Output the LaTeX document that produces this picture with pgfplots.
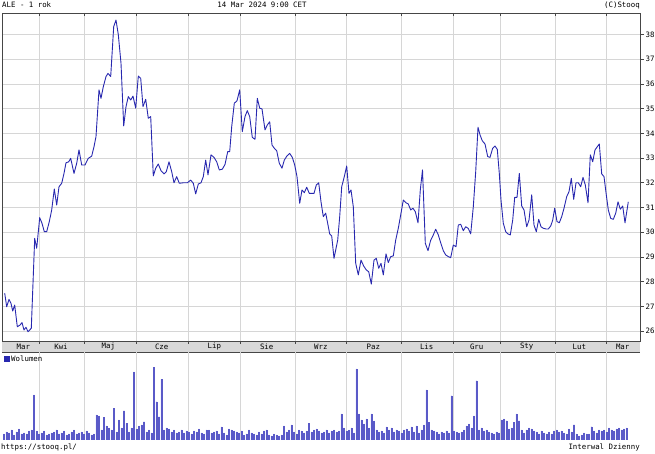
\documentclass[border=0pt]{standalone}
\usepackage{fontspec}
\setmainfont{DejaVu Sans Mono}
\usepackage{pgfplots}
\usepackage{pgfplotstable}
\pgfplotsset{compat=1.18}
\definecolor{pline}{RGB}{40,40,175}
\definecolor{gridc}{RGB}{214,214,214}
\definecolor{volfill}{RGB}{178,178,245}
\definecolor{voledge}{RGB}{90,90,200}
\definecolor{band}{RGB}{216,216,216}
\definecolor{frame}{RGB}{70,70,70}

% ALE daily close, x = position in the chart (px), y = price
\pgfplotstableread{
x y
4.7 27.53
6.7 26.98
9 27.28
11 27.12
12.7 26.81
14.7 27.05
17.3 26.17
20 26.24
22 26.34
24 26.04
26 26.15
28 25.97
31.3 26.11
34.7 29.75
36.7 29.35
39.7 30.59
42 30.36
44.3 30.02
46.7 30.02
49.3 30.43
51.7 30.90
54.3 31.75
56.7 31.10
59 31.84
61.7 31.98
64 32.38
66 32.81
68.7 32.85
70.7 32.99
74 32.38
76.7 32.79
79 33.33
81.7 32.72
85 32.72
88.3 32.99
91.7 33.08
94 33.46
96 33.87
99 35.76
101 35.42
103.3 35.89
106 36.30
108 36.43
110.7 36.30
112.3 37.38
113.7 38.32
116 38.59
118.3 38.00
121 36.84
123.7 34.30
126 35.08
128.3 35.49
130.7 35.35
133 35.51
135.7 35.02
138.3 36.32
140.7 36.23
143 35.08
145.7 35.38
148.3 34.61
150.7 34.68
153.3 32.28
155.7 32.59
158.3 32.76
161 32.49
164 32.36
166.3 32.45
169 32.85
171.7 32.45
174 32.00
176.7 32.25
179.3 31.98
183.3 32.00
187.3 32.00
190.7 32.11
193.3 31.98
195.7 31.55
198.3 31.95
201 32.00
203.3 32.25
205.7 32.92
208 32.32
211 33.13
214 33.03
216.7 32.85
219.3 32.52
222.3 32.55
225 32.74
227.7 33.26
229.7 33.26
231.7 34.27
234.3 35.22
237 35.32
239.7 35.76
242.3 34.07
245 34.68
247.3 34.92
249.7 34.68
252.3 33.84
255 33.76
257.3 35.42
259.7 35.02
262 34.99
265 34.14
267.3 34.34
269.7 34.47
272 33.53
274.3 33.40
276.7 33.30
279.3 32.79
282 32.59
284.3 32.92
287 33.09
289.7 33.19
292.3 33.03
294.7 32.72
297 32.25
299.7 31.17
302 31.71
304.3 31.60
306.7 31.82
309.3 31.57
311.7 31.57
314 31.57
316.3 31.91
318.7 32.00
321 31.23
323.3 30.63
325.7 30.77
328 30.29
329.7 29.93
331.7 29.85
334 28.94
337.7 29.68
339.7 30.63
341.7 31.84
344.3 32.25
346.7 32.68
349 31.57
351 31.71
353.3 31.03
355.7 28.74
358.3 28.27
361 28.87
363.7 28.63
366.3 28.47
368.7 28.40
371.3 27.90
374 28.87
376.3 28.94
378.7 28.54
381 28.74
383.3 28.27
386 29.12
388.3 28.77
390.7 29.01
393.3 29.04
395.7 29.68
398.3 30.16
400.7 30.70
403.3 31.30
406 31.19
408.3 31.14
410.7 30.90
413 30.97
415.3 30.83
418 30.38
420.3 31.71
422.5 32.52
425.3 29.55
428 29.25
430.7 29.68
433.3 29.89
435.7 30.12
438.3 29.89
440.7 29.57
443.3 29.25
445.7 29.08
448.3 29.01
450.7 28.97
453.3 29.48
456 29.41
458.3 30.29
460.7 30.32
463.3 30.06
465.7 30.22
468.3 30.15
470.7 29.93
473.3 31.03
475.7 32.45
478 34.25
480 33.94
482.3 33.70
485 33.57
487.7 33.06
490 33.03
492.7 33.40
495 33.49
497.3 33.35
499.3 32.38
501 31.30
503.3 30.36
505.7 30.02
508 29.93
510.3 29.89
512.7 30.49
514.7 31.41
517 31.41
519.3 32.38
521.7 31.06
524 30.90
526.7 30.22
529 30.49
531.7 31.51
534 30.29
536.3 30.02
538.7 30.52
541 30.22
543.3 30.16
546 30.13
548.3 30.13
550.7 30.25
552.7 30.49
554.7 30.97
557 30.43
559.3 30.38
561.7 30.63
564 30.97
566.7 31.44
569 31.64
571.3 32.18
573.7 31.33
576 32.00
578.3 32.00
580.7 31.84
583 32.22
585.3 31.91
588 31.19
590.3 33.13
592.7 32.85
595 33.33
597.3 33.46
599.3 33.57
601.7 32.36
604 32.25
606 31.60
608.3 30.90
610.7 30.56
613.3 30.52
615.7 30.77
618 31.23
620.3 30.93
622.7 31.06
625 30.38
628.3 31.23
}\pricetable

% daily volume, one row per session (relative units)
\pgfplotstableread{
vol
6
8
7
10
5
8
11
6
7
6
9
10
45
9
6
7
9
5
6
7
8
10
6
7
9
5
6
8
10
6
7
8
6
9
7
5
6
25
24
10
22.7
14
12
10
31.7
8
20
12
29.3
16.7
8
12
68
11
14
15
18.3
8
10
7
72.7
38.3
23.3
60.7
10
12
11
8
10
7
8
10
7
9
8
6
9
8
11
7
6
10
10
7
8
9
6
13
7
5
11
10
9
8
7
9
5
6
10
7
6
5
8
6
9
10
5
4
6
5
4
5
14
8
10
15
8
6
10
9
7
9
16.7
8
10
11
9
7
8
10
7
9
10
8
9
26
12
9
10
12
7
71
26
20
16
21
12
26
19
10
8
9
7
13
10
12
8
10
9
7
10
11
9
13
8
14
7
10
15
50
17.7
10
9
8
6
8
7
9
7
44.3
9
8
7
8
10
14
16
12
24
59.3
10
12
9
10
8
7
6
8
7
20
21
19.3
11
12
17.7
26
19.3
10
7
10
12
11
9
8
6
9
7
6
8
6
9
10
8
9
7
6
11
8
15.3
6
4
5
7
6
6
13.3
9
7
10
9
10
8
12
10
9
11
12
10
11
12
}\voltable

\begin{document}
\fontsize{7.4}{8.5}\selectfont
\begin{tikzpicture}

\begin{scope}[x=1pt,y=1pt]
% month band
\fill[band] (2,102) rectangle (640,113);
\draw[frame,line width=0.7pt] (2,102) -- (640,102);
\foreach \m in {39.3,84,136,188.3,240.7,295,346.7,401,453.3,500.7,555,606.7}{
  \draw[frame,line width=0.7pt] (\m,113) -- (\m,110);
  \draw[frame,line width=0.7pt] (\m,102) -- (\m,99);
}
\foreach \p/\m in {23.3/Mar,61/Kwi,108.3/Maj,161.7/Cze,214.3/Lip,266.7/Sie,320.8/Wrz,373.3/Paz,426.7/Lis,476.7/Gru,526.7/Sty,579.3/Lut,622.7/Mar}{
  \node[inner sep=0pt] at (\p,107.3) {\m};
}
\end{scope}

\begin{axis}[
  at={(2pt,113pt)}, anchor=south west, scale only axis,
  width=638pt, height=328pt,
  xmin=2, xmax=640, ymin=25.595, ymax=38.874,
  xtick={39.3,84,136,188.3,240.7,295,346.7,401,453.3,500.7,555,606.7},
  xticklabels={}, xtick style={draw=none},
  ytick={26,27,...,38},
  ytick pos=right, yticklabel pos=right,
  tick align=outside, major tick length=4pt,
  ytick style={frame,line width=0.7pt},
  yticklabel style={inner sep=1.5pt},
  /pgf/number format/assume math mode=true,
  grid=major, major grid style={gridc,line width=0.7pt},
  axis line style={frame,line width=0.8pt},
]
\addplot[pline, line width=0.9pt, line join=round] table[x=x,y=y] {\pricetable};
\end{axis}

\begin{axis}[
  at={(2pt,14pt)}, anchor=south west, scale only axis,
  width=638pt, height=88pt,
  xmin=2, xmax=640, ymin=0, ymax=88,
  xtick={39.3,84,136,188.3,240.7,295,346.7,401,453.3,500.7,555,606.7},
  xticklabels={}, xtick style={draw=none},
  ytick=\empty,
  xmajorgrids, major grid style={gridc,line width=0.7pt},
  axis line style={draw=none},
]
\addplot[ybar, bar width=1.2, fill=volfill, draw=voledge, line width=0.25pt]
  table[x expr=4+2.5*\coordindex, y=vol] {\voltable};
\end{axis}

\begin{scope}[x=1pt,y=1pt]
\foreach \m in {39.3,84,136,188.3,240.7,295,346.7,401,453.3,500.7,555,606.7}{
  \draw[frame,line width=0.7pt] (\m,441) -- (\m,438);
}
% volume legend
\fill[pline] (4,92) rectangle (9.5,97.5);
\node[anchor=west,inner sep=0pt] at (11,95) {Wolumen};

% header and footer
\node[anchor=west,inner sep=0pt] at (2,449) {ALE - 1 rok};
\node[inner sep=0pt] at (262,449) {14 Mar 2024 9:00 CET};
\node[anchor=east,inner sep=0pt] at (640,449) {(C)Stooq};
\node[anchor=west,inner sep=0pt] at (1,6.5) {https://stooq.pl/};
\node[anchor=east,inner sep=0pt] at (640,6.5) {Interwal Dzienny};

\pgfresetboundingbox
\useasboundingbox (0,0) rectangle (655,454);
\end{scope}
\end{tikzpicture}
\end{document}
